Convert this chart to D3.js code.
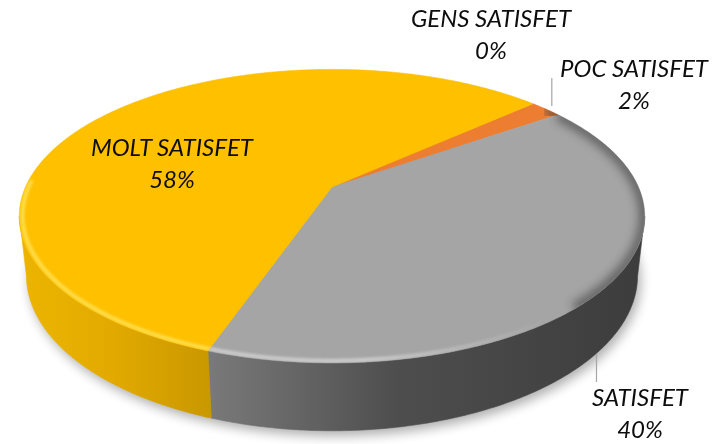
<!DOCTYPE html>
<html><head><meta charset="utf-8">
<script src="https://cdn.jsdelivr.net/npm/d3@7"></script>
<style>html,body{margin:0;padding:0;background:#fff;}svg{display:block}</style>
</head><body>
<script>
// ---- data ----
const categories = ["GENS SATISFET", "POC SATISFET", "SATISFET", "MOLT SATISFET"];
const values = [0, 2, 40, 58];
const colors = ["#4472C4", "#ED7D31", "#A5A5A5", "#FFC000"];
const highlightColors = ["#8FAADC", "#F4B183", "#D4D4D4", "#FFE35A"];
const sideStops = [
  [["0", "#3A5FA8"], ["1", "#22396a"]],
  [["0", "#D06A25"], ["1", "#9a4a15"]],
  [["0", "#8c8c8c"], ["0.3", "#7a7a7a"], ["0.6", "#4e4e4e"], ["1", "#3c3c3c"]],
  [["0", "#EDB500"], ["0.15", "#E2AA00"], ["0.32", "#C79600"], ["1", "#8a6800"]]
];
// label layout (baseline of first line), separate from data
const labelAnchors = [[491, 27], [634, 77], [640, 406], [172, 156]];

// ---- view ----
const W = 713, H = 444;
const view = { cx: 332, cy: 187, f: 1370, D: 4.47, tilt: Math.asin(0.46), depth: 0.22 };
const rotation = 48 * Math.PI / 180;

const svg = d3.select("body").append("svg").attr("width", W).attr("height", H);
const defs = svg.append("defs");

function proj(theta, r, h) {
  const s = Math.sin(view.tilt), c = Math.cos(view.tilt);
  const X = r * Math.sin(theta), Z = r * Math.cos(theta), Y = h;
  const yc = Y * c + Z * s;
  const zc = -Y * s + Z * c + view.D;
  return [view.cx + view.f * X / zc, view.cy - view.f * yc / zc];
}
function samples(a0, a1, step) {
  const n = Math.max(2, Math.ceil(Math.abs(a1 - a0) / step));
  return d3.range(n + 1).map(i => a0 + (a1 - a0) * i / n);
}

const pie = d3.pie().sort(null).value(d => d).startAngle(rotation).endAngle(rotation + 2 * Math.PI);
const arcs = pie(values);

const cosL = -Math.cos(view.tilt) / view.D;
const thL = Math.acos(cosL), thR = 2 * Math.PI - thL;

// filters
const fb = defs.append("filter").attr("id", "shadow").attr("x", "-20%").attr("y", "-20%").attr("width", "140%").attr("height", "140%");
fb.append("feGaussianBlur").attr("stdDeviation", 6);
const fh = defs.append("filter").attr("id", "soft").attr("x", "-10%").attr("y", "-10%").attr("width", "120%").attr("height", "120%");
fh.append("feGaussianBlur").attr("stdDeviation", 1.6);
const fd = defs.append("filter").attr("id", "soft2").attr("x", "-10%").attr("y", "-10%").attr("width", "120%").attr("height", "120%");
fd.append("feGaussianBlur").attr("stdDeviation", 5);

// side gradients
sideStops.forEach((st, i) => {
  const g = defs.append("linearGradient").attr("id", "side" + i)
    .attr("gradientUnits", "userSpaceOnUse").attr("x1", 18).attr("x2", 647).attr("y1", 0).attr("y2", 0);
  st.forEach(s => g.append("stop").attr("offset", s[0]).attr("stop-color", s[1]));
});
// highlight fade gradient (fades out toward the right)
const hg = defs.append("linearGradient").attr("id", "hlfade")
  .attr("gradientUnits", "userSpaceOnUse").attr("x1", 18).attr("x2", 647).attr("y1", 0).attr("y2", 0);
[["0", 1], ["0.55", 1], ["0.85", 0]].forEach(s => hg.append("stop").attr("offset", s[0]).attr("stop-color", "#fff").attr("stop-opacity", s[1]));
const hm = defs.append("mask").attr("id", "hlmask").attr("maskUnits", "userSpaceOnUse");
hm.append("rect").attr("x", 0).attr("y", 0).attr("width", W).attr("height", H).attr("fill", "url(#hlfade)");

// shadow
const full = samples(0, 2 * Math.PI, 0.02);
const shadowPts = full.map(t => proj(t, 1.0, -view.depth)).map(p => [p[0] + 3, p[1] + 5]);
svg.append("path").attr("d", d3.line()(shadowPts) + "Z").attr("fill", "#000").attr("opacity", 0.32).attr("filter", "url(#shadow)");

// sides
const gSide = svg.append("g");
arcs.forEach((a, i) => {
  const a0 = Math.max(a.startAngle, thL), a1 = Math.min(a.endAngle, thR);
  if (a1 <= a0) return;
  const ts = samples(a0, a1, 0.01);
  const top = ts.map(t => proj(t, 1, 0));
  const bot = ts.slice().reverse().map(t => proj(t, 1, -view.depth));
  gSide.append("path").attr("d", d3.line()(top.concat(bot)) + "Z")
    .attr("fill", `url(#side${i})`).attr("stroke", `url(#side${i})`).attr("stroke-width", 0.6);
});

// top faces
const topClip = defs.append("clipPath").attr("id", "topclip");
topClip.append("path").attr("d", d3.line()(full.map(t => proj(t, 1, 0))) + "Z");
const gTop = svg.append("g");
arcs.forEach((a, i) => {
  if (a.endAngle - a.startAngle <= 0) return;
  const ts = samples(a.startAngle, a.endAngle, 0.01);
  const pts = [proj(0, 0, 0)].concat(ts.map(t => proj(t, 1, 0)));
  gTop.append("path").attr("d", d3.line()(pts) + "Z").attr("fill", colors[i])
    .attr("stroke", colors[i]).attr("stroke-width", 0.6).attr("stroke-linejoin", "round");
});

// bevel shading on top rim
const gBevel = svg.append("g").attr("clip-path", "url(#topclip)");
const gHl = gBevel.append("g").attr("mask", "url(#hlmask)");
arcs.forEach((a, i) => {
  if (a.endAngle - a.startAngle <= 0) return;
  const d0 = Math.max(a.startAngle, 0.9), d1 = Math.min(a.endAngle, 2.4);
  if (d1 > d0) {
    const ts = samples(d0, d1, 0.01);
    gBevel.append("path").attr("d", d3.line()(ts.map(t => proj(t, 1.0, 0))))
      .attr("fill", "none").attr("stroke", "#3a3a3a").attr("stroke-width", 12).attr("opacity", 0.6).attr("filter", "url(#soft2)");
  }
  const h0 = Math.max(a.startAngle, 2.3), h1 = Math.min(a.endAngle, thR + 0.25);
  if (h1 > h0) {
    const ts = samples(h0, h1, 0.01);
    gHl.append("path").attr("d", d3.line()(ts.map(t => proj(t, 0.99, 0))))
      .attr("fill", "none").attr("stroke", highlightColors[i]).attr("stroke-width", 3.5).attr("opacity", 0.95).attr("filter", "url(#soft)");
  }
});

// labels
const pct = d3.format(".0%");
const total = d3.sum(values);
const gLab = svg.append("g").attr("font-family", "Lato, 'Open Sans', sans-serif")
  .attr("font-style", "italic").attr("font-size", 24).attr("fill", "#0d0d0d").attr("text-anchor", "middle");
arcs.forEach((a, i) => {
  const [x, y] = labelAnchors[i];
  gLab.append("text").attr("x", x).attr("y", y).text(categories[i]);
  gLab.append("text").attr("x", x).attr("y", y + 32).text(pct(values[i] / total));
});

// leader lines (for slices whose label sits outside)
[1, 2].forEach(i => {
  const a = arcs[i];
  const mid = (a.startAngle + a.endAngle) / 2;
  const onFront = mid > thL && mid < thR;
  const p = onFront ? proj(mid, 1, -view.depth) : proj(mid, 1, 0);
  const yEnd = onFront ? labelAnchors[i][1] - 24 : labelAnchors[i][1] + 1;
  svg.append("line").attr("x1", p[0] + (onFront ? -6 : 6)).attr("y1", p[1] + (onFront ? 6 : -3))
    .attr("x2", p[0] + (onFront ? -6 : 6)).attr("y2", yEnd)
    .attr("stroke", "#A6A6A6").attr("stroke-width", 1.2);
});
</script>
</body></html>
